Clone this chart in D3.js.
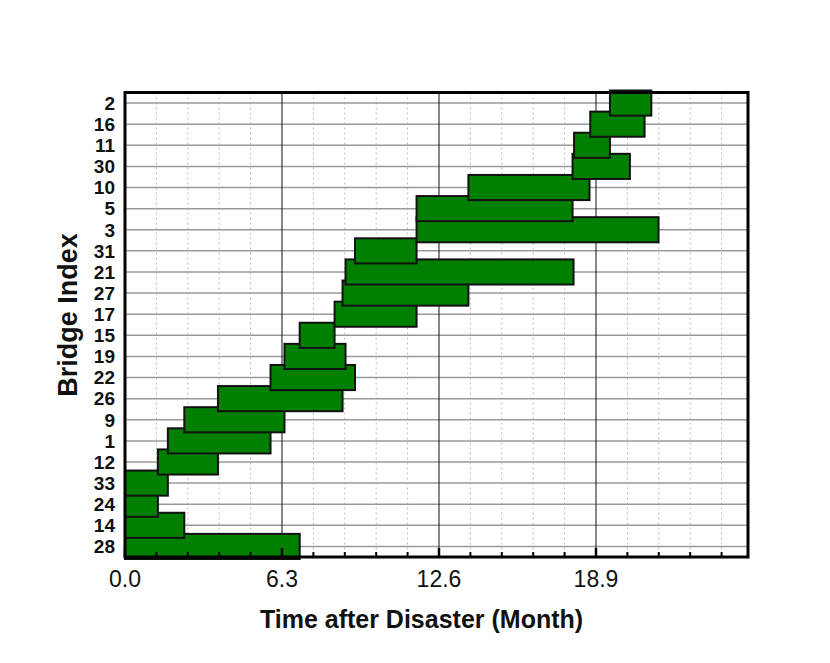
<!DOCTYPE html>
<html>
<head>
<meta charset="utf-8">
<script src="https://cdn.jsdelivr.net/npm/d3@7"></script>
<style>
  html, body { margin: 0; padding: 0; background: #fff; }
  svg { display: block; font-family: Arial, "Liberation Sans", sans-serif; }
</style>
</head>
<body>
<svg id="chart" width="830" height="663"></svg>
<script>
// Bridge indices, top to bottom
const bridges = ["2","16","11","30","10","5","3","31","21","27","17","15","19","22","26","9","1","12","33","24","14","28"];
// Start and end of each restoration (months)
const starts = [19.46, 18.67, 18.02, 17.96, 13.78, 11.70, 11.70, 9.23, 8.85, 8.73, 8.41, 7.01, 6.40, 5.84, 3.73, 2.38, 1.72, 1.32, 0, 0, 0, 0];
const ends   = [21.12, 20.85, 19.46, 20.26, 18.64, 17.96, 21.41, 11.70, 18.00, 13.78, 11.70, 8.41, 8.85, 9.23, 8.73, 6.40, 5.84, 3.73, 1.72, 1.32, 2.38, 7.01];
const xMajorTicks = [0, 6.3, 12.6, 18.9];
const xTickLabels = ["0.0", "6.3", "12.6", "18.9"];
const xDomain = [0, 25];
const minorStep = 1.26;

const svg = d3.select("#chart");
const L = 125, R = 748, T = 92.5, B = 557;

const x = d3.scaleLinear().domain(xDomain).range([L, R]);
const y = d3.scaleBand().domain(bridges).range([T, B]).padding(0);
const barH = y.step() * 1.19;

const minorTicks = d3.range(0, xDomain[1] + 1e-9, minorStep)
  .filter(v => xMajorTicks.every(m => Math.abs(m - v) > 1e-6));

const g = svg.append("g");

// minor dotted vertical grid
g.selectAll("line.minor").data(minorTicks).join("line")
  .attr("class", "minor")
  .attr("x1", d => x(d)).attr("x2", d => x(d))
  .attr("y1", T).attr("y2", B)
  .attr("stroke", "#bdbdbd").attr("stroke-width", 1)
  .attr("stroke-dasharray", "2,3");

// horizontal grid at each bridge
g.selectAll("line.hgrid").data(bridges).join("line")
  .attr("class", "hgrid")
  .attr("x1", L).attr("x2", R)
  .attr("y1", d => y(d) + y.bandwidth() / 2).attr("y2", d => y(d) + y.bandwidth() / 2)
  .attr("stroke", "#9a9a9a").attr("stroke-width", 1.5);

// major vertical grid
g.selectAll("line.major").data(xMajorTicks.filter(v => v > 0)).join("line")
  .attr("class", "major")
  .attr("x1", d => x(d)).attr("x2", d => x(d))
  .attr("y1", T).attr("y2", B)
  .attr("stroke", "#111").attr("stroke-width", 1);

// bars, drawn bottom row first
const rows = bridges.map((b, i) => ({ b, s: starts[i], e: ends[i] })).reverse();
g.selectAll("rect.bar").data(rows).join("rect")
  .attr("class", "bar")
  .attr("x", d => x(d.s))
  .attr("width", d => x(d.e) - x(d.s))
  .attr("y", d => y(d.b) + y.bandwidth() / 2 - barH / 2)
  .attr("height", barH)
  .attr("fill", "#007f00")
  .attr("stroke", "#111")
  .attr("stroke-width", 2);

// frame
g.append("rect")
  .attr("x", L).attr("y", T).attr("width", R - L).attr("height", B - T)
  .attr("fill", "none").attr("stroke", "#000").attr("stroke-width", 3);

// ticks (inward)
g.selectAll("line.mtick").data(minorTicks).join("line")
  .attr("x1", d => x(d)).attr("x2", d => x(d))
  .attr("y1", B).attr("y2", B - 5)
  .attr("stroke", "#000").attr("stroke-width", 2);
g.selectAll("line.Mtick").data(xMajorTicks).join("line")
  .attr("x1", d => x(d)).attr("x2", d => x(d))
  .attr("y1", B).attr("y2", B - 9)
  .attr("stroke", "#000").attr("stroke-width", 2.5);

// x tick labels
g.selectAll("text.xl").data(xMajorTicks).join("text")
  .attr("x", d => x(d)).attr("y", 587)
  .attr("text-anchor", "middle")
  .attr("font-size", 23)
  .attr("fill", "#111")
  .text((d, i) => xTickLabels[i]);

// y labels
g.selectAll("text.yl").data(bridges).join("text")
  .attr("x", 115)
  .attr("y", d => y(d) + y.bandwidth() / 2)
  .attr("dy", "0.36em")
  .attr("text-anchor", "end")
  .attr("font-size", 19).attr("font-weight", "bold")
  .attr("fill", "#111")
  .text(d => d);

// axis titles
svg.append("text")
  .attr("x", (L + R) / 2 - 15).attr("y", 628)
  .attr("text-anchor", "middle")
  .attr("font-size", 25).attr("font-weight", "bold")
  .attr("fill", "#111")
  .text("Time after Disaster (Month)");

svg.append("text")
  .attr("transform", `translate(77, ${(233 + 397) / 2}) rotate(-90)`)
  .attr("text-anchor", "middle")
  .attr("font-size", 27).attr("font-weight", "bold")
  .attr("fill", "#111")
  .text("Bridge Index");
</script>
</body>
</html>
